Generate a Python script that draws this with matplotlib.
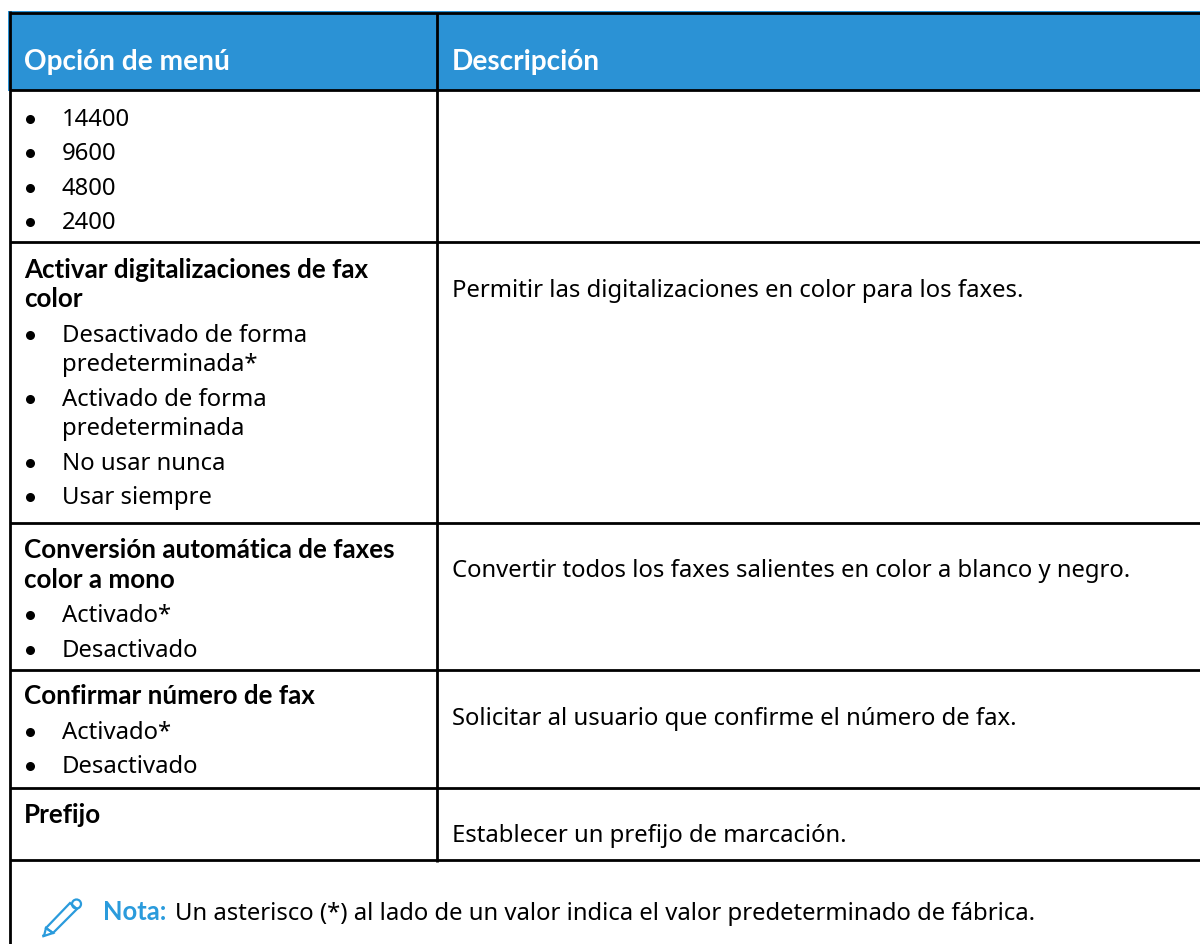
import matplotlib
matplotlib.use('Agg')
import matplotlib.pyplot as plt
from matplotlib.patches import Circle, Polygon, Rectangle

plt.rcParams['font.family'] = ['Noto Sans', 'DejaVu Sans']

BLUE = '#2b92d5'
NOTE_BLUE = '#2a9bdc'

headers = ['Opción de menú', 'Descripción']
left_bold = [('Activar digitalizaciones de fax', 278), ('color', 307),
             ('Conversión automática de faxes', 558), ('color a mono', 588),
             ('Confirmar número de fax', 704), ('Prefijo', 823)]
bullets = [('14400', 126), ('9600', 160), ('4800', 195), ('2400', 229),
           ('Desactivado de forma', 342), ('Activado de forma', 406),
           ('No usar nunca', 470), ('Usar siempre', 504),
           ('Activado*', 622), ('Desactivado', 657),
           ('Activado*', 739), ('Desactivado', 773)]
continued = [('predeterminada*', 371), ('predeterminada', 435)]
descriptions = [('Permitir las digitalizaciones en color para los faxes.', 297),
                ('Convertir todos los faxes salientes en color a blanco y negro.', 577),
                ('Solicitar al usuario que confirme el número de fax.', 725),
                ('Establecer un prefijo de marcación.', 842)]
row_lines = [90, 242, 523, 670, 788, 860]
note_label = 'Nota:'
note_text = 'Un asterisco (*) al lado de un valor indica el valor predeterminado de fábrica.'

fig = plt.figure(figsize=(12, 9.44), dpi=100)
ax = fig.add_axes([0, 0, 1, 1])
ax.set_xlim(0, 1200)
ax.set_ylim(944, 0)
ax.axis('off')

FS = 17.2
BOLD = ['Lato', 'DejaVu Sans']

ax.add_patch(Rectangle((8, 11), 1192, 80, color=BLUE, lw=0))
for y in [13] + row_lines:
    ax.plot([10, 1200], [y, y], color='black', lw=2, solid_capstyle='butt')
ax.plot([10, 10], [11, 944], color='black', lw=2, solid_capstyle='butt')
ax.plot([437, 437], [13, 862], color='black', lw=2, solid_capstyle='butt')

ax.text(24, 70, headers[0], color='white', fontsize=20.2, family=BOLD, fontweight='bold', va='baseline')
ax.text(452, 70, headers[1], color='white', fontsize=20.2, family=BOLD, fontweight='bold', va='baseline')

for s, y in left_bold:
    ax.text(24, y, s, color='black', fontsize=18.75, family=BOLD, fontweight='bold', va='baseline')
for s, y in bullets:
    ax.plot([30], [y - 7.5], 'o', color='black', ms=6.5, mew=0)
    ax.text(62, y, s, color='black', fontsize=FS, va='baseline')
for s, y in continued:
    ax.text(62, y, s, color='black', fontsize=FS, va='baseline')
for s, y in descriptions:
    ax.text(452, y, s, color='black', fontsize=FS, va='baseline')

ax.text(103, 920, note_label, color=NOTE_BLUE, fontsize=18.4, family=BOLD, fontweight='bold', va='baseline')
ax.text(175, 920, note_text, color='black', fontsize=FS, va='baseline')

# pencil icon
ax.add_patch(Polygon([(46, 928), (70, 903), (77, 909), (53, 933)],
                     closed=True, fill=False, edgecolor=NOTE_BLUE, lw=1.6))
ax.add_patch(Polygon([(46, 928), (53, 933), (44, 936)],
                     closed=True, fill=False, edgecolor=NOTE_BLUE, lw=1.6))
ax.add_patch(Circle((76.5, 904), 4.5, fill=False, edgecolor=NOTE_BLUE, lw=1.6))
ax.add_patch(Circle((43.3, 935.7), 1.3, color=NOTE_BLUE, lw=0))

fig.savefig('out.png', dpi=100)
